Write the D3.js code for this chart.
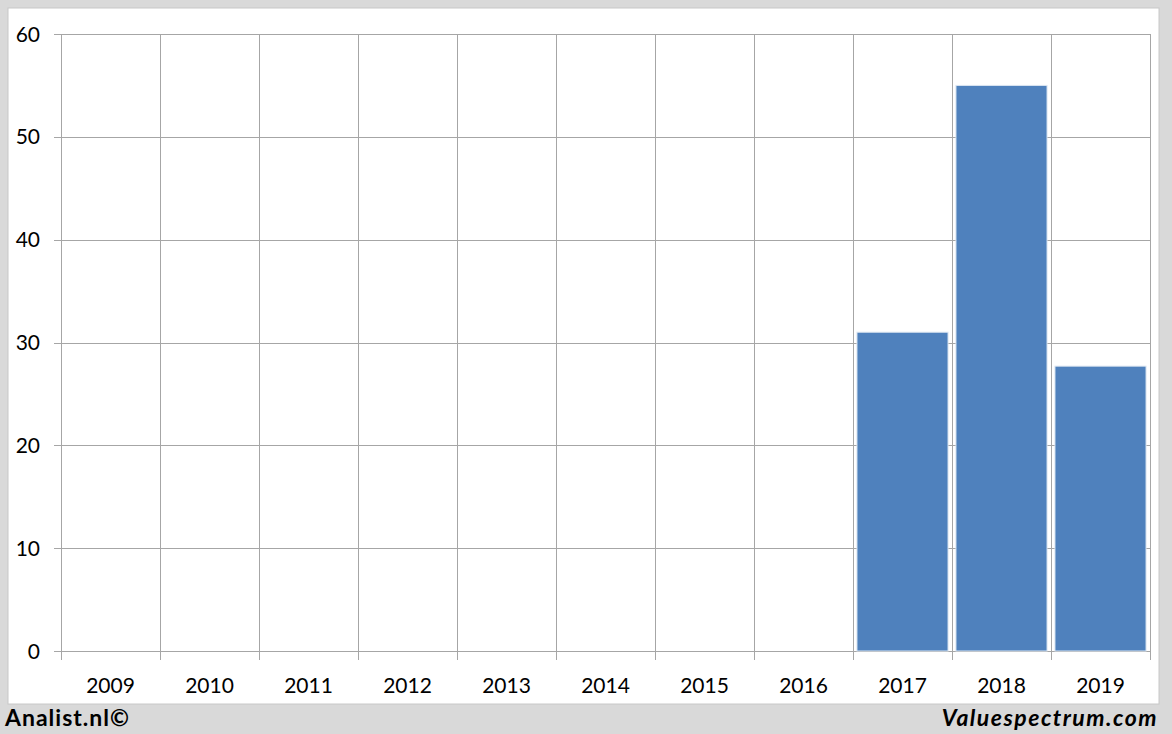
<!DOCTYPE html>
<html><head><meta charset="utf-8">
<script src="https://cdn.jsdelivr.net/npm/d3@7"></script>
<style>body{margin:0;background:#d9d9d9;}svg{display:block;}</style>
</head><body>
<svg id="c" width="1172" height="734"></svg>
<script>
const categories = ["2009","2010","2011","2012","2013","2014","2015","2016","2017","2018","2019"];
const values = [null,null,null,null,null,null,null,null,31,55,27.7];
const yTicks = [0,10,20,30,40,50,60];

const svg = d3.select("#c");
const W = 1172, H = 734;
svg.append("rect").attr("width",W).attr("height",H).attr("fill","#d9d9d9");
svg.append("rect").attr("x",8).attr("y",8).attr("width",1151).attr("height",696)
  .attr("fill","#ffffff").attr("stroke","#c8c8c8").attr("stroke-width",1);

const m = {l:61, r:1150, t:34, b:651};
const x = d3.scaleBand().domain(categories).range([m.l,m.r]).paddingInner(0.08).paddingOuter(0.04);
const xg = d3.scaleBand().domain(categories).range([m.l,m.r]);
const y = d3.scaleLinear().domain([0,60]).range([m.b,m.t]);

const font = "Lato, 'Open Sans', sans-serif";
const grid = "#a6a6a6";

svg.append("g").selectAll("line").data(yTicks).join("line")
  .attr("x1",54).attr("x2",m.r).attr("y1",d=>Math.round(y(d))+0.5).attr("y2",d=>Math.round(y(d))+0.5)
  .attr("stroke",grid).attr("stroke-width",1);
const vx = categories.map(c=>xg(c)).concat([m.r]);
svg.append("g").selectAll("line").data(vx).join("line")
  .attr("x1",d=>Math.round(d)+0.5).attr("x2",d=>Math.round(d)+0.5).attr("y1",m.t).attr("y2",m.b+9)
  .attr("stroke",grid).attr("stroke-width",1);

svg.append("g").selectAll("rect").data(categories.map((c,i)=>({c,v:values[i]})).filter(d=>d.v!=null)).join("rect")
  .attr("x",d=>x(d.c)).attr("width",x.bandwidth())
  .attr("y",d=>y(d.v)).attr("height",d=>y(0)-y(d.v))
  .attr("fill","#4f81bd").attr("stroke","#dce6f2").attr("stroke-width",1);

svg.append("g").selectAll("text").data(yTicks).join("text")
  .attr("x",40).attr("y",d=>y(d)).attr("dy","0.36em").attr("text-anchor","end")
  .attr("font-family",font).attr("font-size",21).attr("fill","#000").text(d=>d);
svg.append("g").selectAll("text").data(categories).join("text")
  .attr("x",d=>xg(d)+xg.bandwidth()/2).attr("y",693).attr("text-anchor","middle")
  .attr("font-family",font).attr("font-size",21).attr("fill","#000").text(d=>d);

svg.append("text").attr("x",5).attr("y",726).attr("font-family",font).attr("font-weight","bold")
  .attr("font-size",23).attr("letter-spacing",1).attr("fill","#000").text("Analist.nl©");
svg.append("text").attr("x",1158).attr("y",726).attr("text-anchor","end").attr("font-family",font)
  .attr("font-weight","bold").attr("font-style","italic").attr("font-size",23).attr("letter-spacing",1.5)
  .attr("fill","#000").text("Valuespectrum.com");
</script>
</body></html>
